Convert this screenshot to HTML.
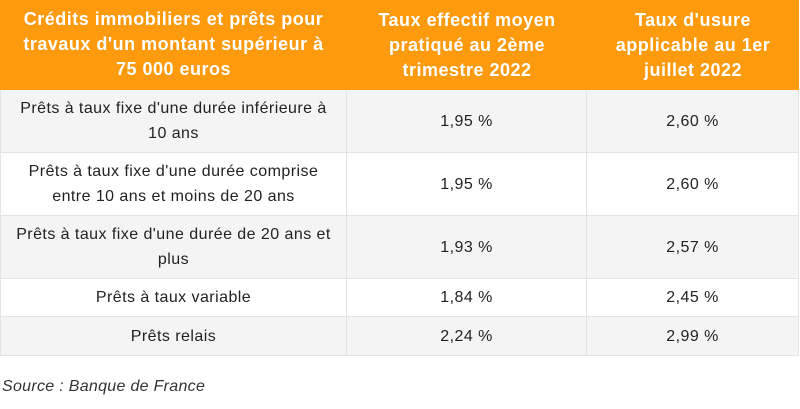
<!DOCTYPE html>
<html><head><meta charset="utf-8"><style>
body{margin:0;width:800px;height:409px;background:#fff;font-family:"Liberation Sans",sans-serif;position:relative;overflow:hidden}
.c{position:absolute;display:flex;align-items:center;justify-content:center;text-align:center;box-sizing:border-box;line-height:25px;color:#222;font-size:16px;letter-spacing:0.45px;white-space:nowrap}
.h{background:#fd9a0e;color:#fff;font-weight:bold;font-size:18px;line-height:25px;letter-spacing:0.5px}
.g{background:#f4f4f4}
.w{background:#fff}
.b{border-right:1px solid #e4e4e4;border-bottom:1px solid #e4e4e4}
.l{border-left:1px solid #e4e4e4}
</style></head><body>
<div class="c h" style="left:0;top:0;width:347px;height:90px;padding-bottom:2px">Crédits immobiliers et prêts pour<br>travaux d'un montant supérieur à<br>75 000 euros</div>
<div class="c h" style="left:347px;top:0;width:240px;height:90px">Taux effectif moyen<br>pratiqué au 2ème<br>trimestre 2022</div>
<div class="c h" style="left:587px;top:0;width:212px;height:90px">Taux d'usure<br>applicable au 1er<br>juillet 2022</div>

<div class="c g b l" style="left:0;top:90px;width:347px;height:63px">Prêts à taux fixe d'une durée inférieure à<br>10 ans</div>
<div class="c g b" style="left:347px;top:90px;width:240px;height:63px">1,95 %</div>
<div class="c g b" style="left:587px;top:90px;width:212px;height:63px">2,60 %</div>

<div class="c w b l" style="left:0;top:153px;width:347px;height:63px">Prêts à taux fixe d'une durée comprise<br>entre 10 ans et moins de 20 ans</div>
<div class="c w b" style="left:347px;top:153px;width:240px;height:63px">1,95 %</div>
<div class="c w b" style="left:587px;top:153px;width:212px;height:63px">2,60 %</div>

<div class="c g b l" style="left:0;top:216px;width:347px;height:63px">Prêts à taux fixe d'une durée de 20 ans et<br>plus</div>
<div class="c g b" style="left:347px;top:216px;width:240px;height:63px">1,93 %</div>
<div class="c g b" style="left:587px;top:216px;width:212px;height:63px">2,57 %</div>

<div class="c w b l" style="left:0;top:279px;width:347px;height:38px">Prêts à taux variable</div>
<div class="c w b" style="left:347px;top:279px;width:240px;height:38px">1,84 %</div>
<div class="c w b" style="left:587px;top:279px;width:212px;height:38px">2,45 %</div>

<div class="c g b l" style="left:0;top:317px;width:347px;height:39px">Prêts relais</div>
<div class="c g b" style="left:347px;top:317px;width:240px;height:39px">2,24 %</div>
<div class="c g b" style="left:587px;top:317px;width:212px;height:39px">2,99 %</div>

<div style="position:absolute;left:2px;top:378px;font-size:16px;letter-spacing:0.3px;font-style:italic;color:#333">Source : Banque de France</div>
</body></html>
